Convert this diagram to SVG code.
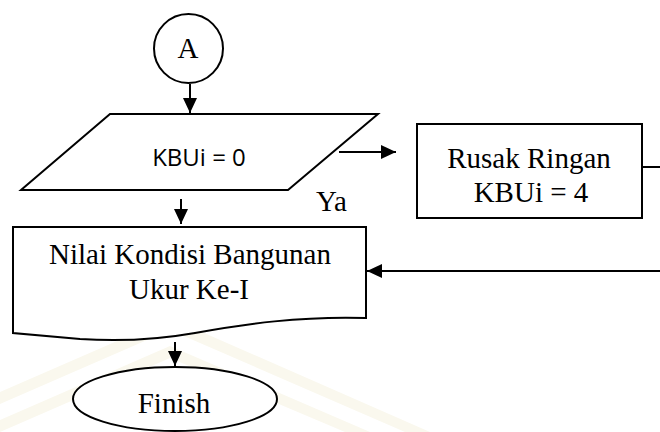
<svg xmlns="http://www.w3.org/2000/svg" width="660" height="432" viewBox="0 0 660 432">
  <style>
    .shape { fill: #ffffff; stroke: #000000; stroke-width: 2; }
    .serif { font-family: "Liberation Serif", "Times New Roman", serif; font-size: 29px; fill: #000000; }
    .sans { font-family: "Open Sans", "Liberation Sans", sans-serif; font-size: 24px; fill: #000000; }
    .wire { stroke: #000000; stroke-width: 2; fill: none; }
    .mark { fill: #faf8ee; }
  </style>
  <defs>
    <marker id="arrow" markerUnits="userSpaceOnUse" markerWidth="15" markerHeight="14" refX="15" refY="7" orient="auto">
      <path d="M0,0 L15,7 L0,14 Z" fill="#000000"/>
    </marker>
  </defs>

  <rect width="660" height="432" fill="#ffffff"/>

  <!-- faint background watermark bands -->
  <g id="watermark">
    <polygon class="mark" points="0,392 170,318 430,432 405,432 170,330 0,404"/>
    <polygon class="mark" points="0,420 170,346 370,432 345,432 170,358 0,432"/>
  </g>

  <!-- connectors -->
  <g id="connectors">
    <line class="wire" x1="190" y1="84" x2="190" y2="113" marker-end="url(#arrow)"/>
    <line class="wire" x1="339" y1="152" x2="396" y2="152" marker-end="url(#arrow)"/>
    <line class="wire" x1="181" y1="199" x2="181" y2="224" marker-end="url(#arrow)"/>
    <line class="wire" x1="642" y1="167" x2="660" y2="167"/>
    <line class="wire" x1="660" y1="271" x2="367" y2="271" marker-end="url(#arrow)"/>
    <line class="wire" x1="175" y1="342" x2="175" y2="366" marker-end="url(#arrow)"/>
  </g>

  <!-- connector A -->
  <g id="node-a">
    <circle class="shape" cx="188.5" cy="48.5" r="34.5" stroke-width="1.5"/>
    <text class="serif" x="188" y="58" text-anchor="middle">A</text>
  </g>

  <!-- decision input -->
  <g id="node-kbui">
    <polygon class="shape" points="110,114 378,114 288,190 21,190"/>
    <text class="sans" x="199" y="166" text-anchor="middle">KBUi = 0</text>
  </g>

  <text id="label-ya" class="serif" x="316" y="211">Ya</text>

  <!-- process box -->
  <g id="node-rusak">
    <rect class="shape" x="417" y="124" width="225" height="94"/>
    <text class="serif" x="529" y="168" text-anchor="middle">Rusak Ringan</text>
    <text class="serif" x="531" y="202" text-anchor="middle">KBUi = 4</text>
  </g>

  <!-- document output -->
  <g id="node-nilai">
    <path class="shape" d="M13,227 H366 V318 C300,316 245,324 195,333 C150,341 110,341 80,339 L13,333 Z"/>
    <text class="serif" x="190" y="264" text-anchor="middle">Nilai Kondisi Bangunan</text>
    <text class="serif" x="189" y="299" text-anchor="middle">Ukur Ke-I</text>
  </g>

  <!-- terminator -->
  <g id="node-finish">
    <ellipse class="shape" cx="175" cy="399" rx="102" ry="32"/>
    <text class="serif" x="174" y="413" text-anchor="middle">Finish</text>
  </g>
</svg>
